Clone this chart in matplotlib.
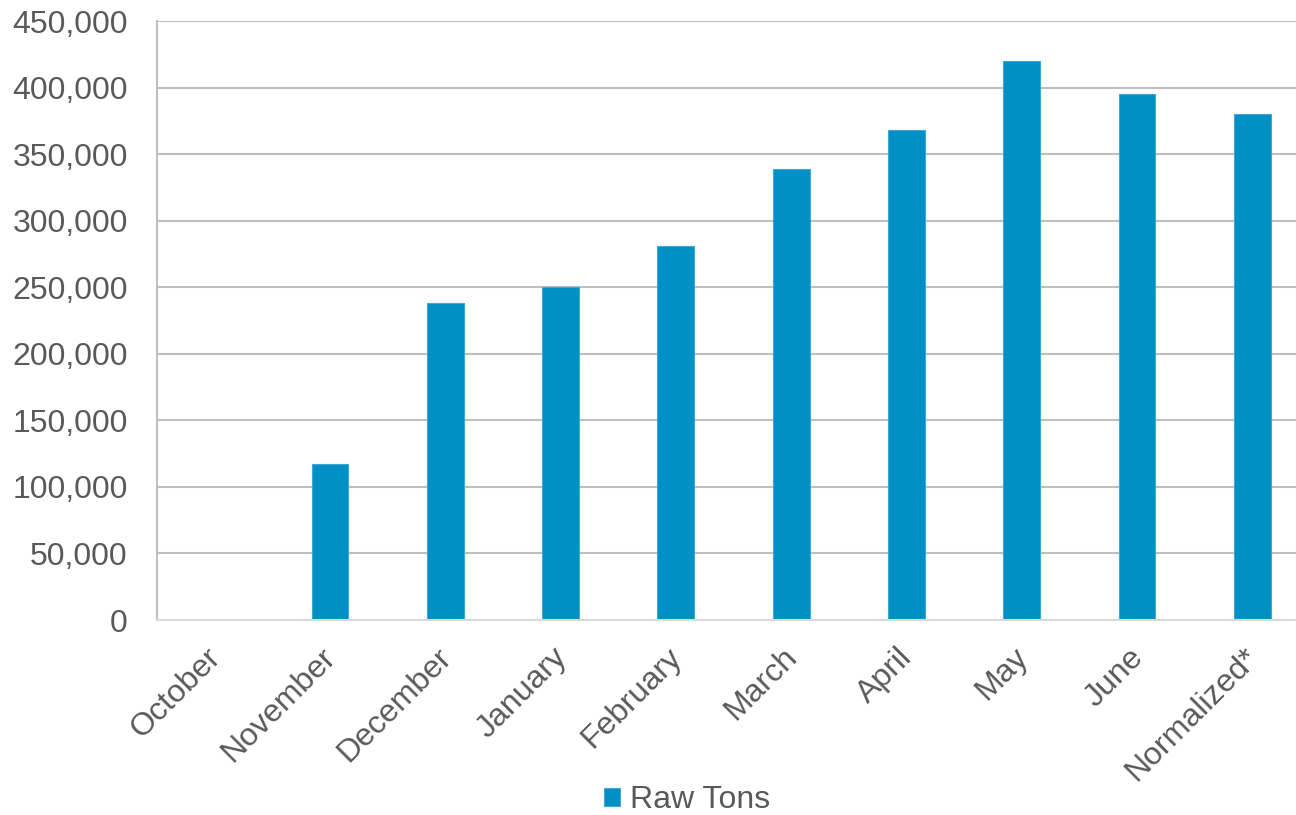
import matplotlib.pyplot as plt
from matplotlib.ticker import FuncFormatter
from matplotlib.transforms import ScaledTranslation

# Monatswerte der Rohtonnen
monate = ["October", "November", "December", "January", "February",
          "March", "April", "May", "June", "Normalized*"]
raw_tons = [0, 117000, 238000, 250000, 281000, 339000, 368000, 420000, 395000, 380000]

name_of_file = "out.png"

plt.rcParams['font.family'] = ['Liberation Sans', 'DejaVu Sans']
grau = '#595959'
blau = '#0090C5'


def main():
    fig = plt.figure(figsize=(12.96, 8.15), dpi=100)
    # Achse reicht rechts leicht über den Bildrand hinaus
    ax = fig.add_axes([157 / 1296, 1 - 620 / 815, 1153 / 1296, 599 / 815])

    x = range(len(monate))
    ax.bar(x, raw_tons, width=0.32, color=blau, edgecolor='#40A8D4',
           linewidth=0.8, label='Raw Tons', zorder=3)

    ax.set_xlim(-0.5, len(monate) - 0.5)
    ax.set_ylim(0, 450000)
    ax.set_yticks(range(0, 450001, 50000))
    ax.yaxis.set_major_formatter(FuncFormatter(lambda v, p: f"{int(v):,}"))
    ax.grid(axis='y', color='#BFBFBF', linewidth=1.5, zorder=0)

    for s in ['top', 'right']:
        ax.spines[s].set_visible(False)
    ax.spines['left'].set_color('#BFBFBF')
    ax.spines['left'].set_linewidth(1.5)
    ax.spines['bottom'].set_color('#D9D9D9')
    ax.spines['bottom'].set_linewidth(1.5)
    ax.spines['bottom'].set_zorder(4)

    ax.tick_params(axis='y', length=0, pad=21, labelsize=23, labelcolor=grau)
    ax.tick_params(axis='x', length=0, pad=16, labelsize=23, labelcolor=grau)
    ax.set_xticks(list(x))
    ax.set_xticklabels(monate, rotation=45, ha='right', va='top',
                       rotation_mode='anchor')
    # Beschriftungen etwas nach links verschieben
    versatz = ScaledTranslation(-9 / 100, 0, fig.dpi_scale_trans)
    for lbl in ax.get_xticklabels():
        lbl.set_transform(lbl.get_transform() + versatz)

    fig.legend(loc='center', bbox_to_anchor=(687 / 1296, 1 - 800 / 815),
               frameon=False, fontsize=23, labelcolor=grau,
               handlelength=0.5, handleheight=0.5, handletextpad=0.3)

    plt.savefig(name_of_file, dpi=100)


if __name__ == "__main__":
    main()
